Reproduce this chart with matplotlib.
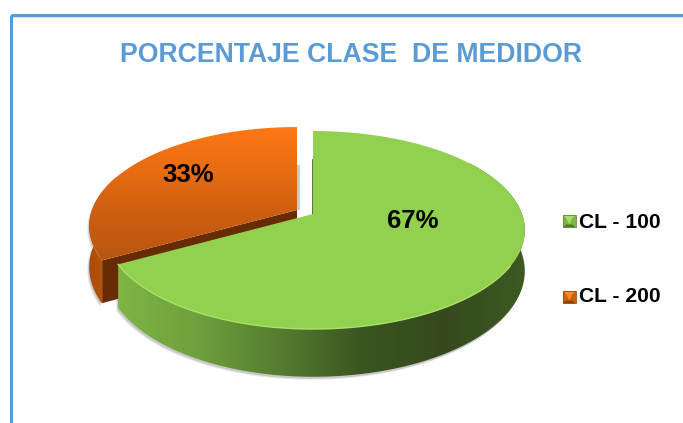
#Porcentaje clase de medidor, 3D looking exploded pie

import numpy as np
import matplotlib
matplotlib.use("Agg")
import matplotlib.pyplot as plt
from matplotlib.colors import LinearSegmentedColormap
from matplotlib.patches import Polygon, Rectangle

TITLE = "PORCENTAJE CLASE  DE MEDIDOR"
categories = ["CL - 100", "CL - 200"]
shares = [67, 33]
share_labels = ["67%", "33%"]

BLUE = "#5B9BD5"
CX, CY = 313, 214
RX, RX_LEFT, RY = 209, 205, 96.4
PERSP = 0.162
DEPTH = 40
EXPLODE = (-16, -4)

plt.rcParams["font.family"] = ["Liberation Sans", "DejaVu Sans"]


def disc_point(angles, dx=0, dy=0, drop=0):
    # angles are clockwise from the top, projected on a tilted disc
    a = np.radians(angles)
    w = 1 + PERSP * np.cos(a)
    rx = np.where(np.sin(a) < 0, RX_LEFT, RX)
    x = CX + rx * np.sin(a) / w + dx
    y = CY - RY * np.cos(a) / w + dy + drop / w
    return np.column_stack([x, y])


def gradient(ax, poly, colors, horizontal, zorder):
    pts = poly.get_xy()
    x0, x1 = pts[:, 0].min(), pts[:, 0].max()
    y0, y1 = pts[:, 1].min(), pts[:, 1].max()
    cmap = LinearSegmentedColormap.from_list("g", colors)
    ramp = np.linspace(0, 1, 256)
    ramp = ramp.reshape(1, -1) if horizontal else ramp.reshape(-1, 1)
    img = ax.imshow(ramp, cmap=cmap, extent=(x0, x1, y1, y0), aspect="auto",
                    origin="upper", zorder=zorder, interpolation="bilinear")
    poly.set_transform(ax.transData)
    poly.set_facecolor("none")
    poly.set_edgecolor("none")
    ax.add_patch(poly)
    img.set_clip_path(poly)


def side_strip(start, end, dx=0, dy=0):
    angles = np.linspace(start, end, 160)
    top = disc_point(angles, dx, dy)
    low = disc_point(angles, dx, dy, DEPTH)
    return np.vstack([top, low[::-1]])


def plot_pie(ax):
    total = sum(shares)
    split = 360 * shares[0] / total
    dx, dy = EXPLODE

    # soft shadows under the side faces
    for off, alpha in [((-2, 3), 0.15), ((-1, 2), 0.25)]:
        ax.add_patch(Polygon(side_strip(split - 150, split, off[0], off[1]),
                             fc="#666666", ec="none", alpha=alpha, zorder=1))
        ax.add_patch(Polygon(side_strip(split, split + 40, dx + off[0], dy + off[1]),
                             fc="#666666", ec="none", alpha=alpha, zorder=1))
    ax.add_patch(Rectangle((297, 165), 3, 45, fc="#999999", ec="none", alpha=0.5, zorder=1))

    # orange slice
    gradient(ax, Polygon(side_strip(split, split + 50, dx, dy)),
             ["#A84C0A", "#C45C0E"], True, 2)
    tip = disc_point([split], dx, dy)[0]
    apex = np.array([CX + dx, CY + dy])
    cut = [tip, apex, apex + [0, DEPTH], tip + [0, DEPTH * 1.07]]
    ax.add_patch(Polygon(cut, fc="#682C05", ec="none", zorder=3))
    arc = disc_point(np.linspace(split, 360, 160), dx, dy)
    gradient(ax, Polygon(np.vstack([apex, arc])),
             ["#FF7814", "#E86C12", "#CC5E10", "#B95510"], False, 4)

    # green slice
    ax.plot([CX, CX], [160, CY], color="#3E5A22", lw=1.2, zorder=5)
    gradient(ax, Polygon(side_strip(55, split)),
             ["#7EB545", "#6E9F3C", "#557C30", "#3A5520", "#35491D", "#3D5A22"], True, 5)
    arc = disc_point(np.linspace(0, split, 300))
    top = Polygon(np.vstack([[CX, CY], arc]), fc="#92D050", ec="none", zorder=6)
    ax.add_patch(top)
    rim = disc_point(np.linspace(120, split, 120))
    ax.plot(rim[:, 0], rim[:, 1], color="#A9E268", lw=1, zorder=7)

    ax.text(413, 221.5, share_labels[0], fontsize=18.5, fontweight="bold",
            ha="center", va="center", color="black", zorder=8)
    ax.text(188, 175.5, share_labels[1], fontsize=18.5, fontweight="bold",
            ha="center", va="center", color="black", zorder=8)


def legend_key(ax, x, y, size, light, mid, dark, shade):
    x1, y1 = x + size, y + size
    ins = 3
    ax.add_patch(Rectangle((x, y), size, size, fc=mid, ec="none", zorder=8))
    ax.add_patch(Polygon([(x, y), (x1, y), (x1 - ins, y + ins), (x + ins, y + ins)],
                         fc=light, ec="none", zorder=9))
    ax.add_patch(Polygon([(x, y1), (x1, y1), (x1 - ins, y1 - ins), (x + ins, y1 - ins)],
                         fc=dark, ec="none", zorder=9))
    ax.add_patch(Polygon([(x + ins, y + ins), (x1 - ins, y + ins), (x + size / 2, y + size - ins)],
                         fc=light, ec="none", zorder=10))
    ax.add_patch(Rectangle((x, y), size, size, fc="none", ec=shade, lw=0.6, zorder=11))


def plot_chart():
    fig = plt.figure(figsize=(6.83, 4.23), dpi=100)
    ax = fig.add_axes([0, 0, 1, 1])

    # chart frame
    ax.add_patch(Rectangle((12, 17), 680, 420, fc="none", ec="#E2E2E2", lw=1.5, zorder=0))
    ax.add_patch(Rectangle((10.5, 15.5), 680, 420, fc="none", ec=BLUE, lw=2.2, zorder=0.5))

    ax.text(351.5, 55, TITLE, fontsize=19.2, fontweight="bold", color=BLUE,
            ha="center", va="center")

    plot_pie(ax)

    legend_key(ax, 563, 215, 12.5, "#A6DC68", "#7FB545", "#4F7A2A", "#5F8A35")
    legend_key(ax, 563, 291, 12.5, "#F58A30", "#D0620F", "#8E420A", "#A04A0A")
    ax.text(579, 222.5, categories[0], fontsize=15.1, fontweight="bold", va="center", color="black")
    ax.text(579, 296.5, categories[1], fontsize=15.1, fontweight="bold", va="center", color="black")

    ax.set_xlim(0, 683)
    ax.set_ylim(423, 0)
    ax.axis("off")
    fig.savefig("out.png", dpi=100, facecolor="white")


plot_chart()
